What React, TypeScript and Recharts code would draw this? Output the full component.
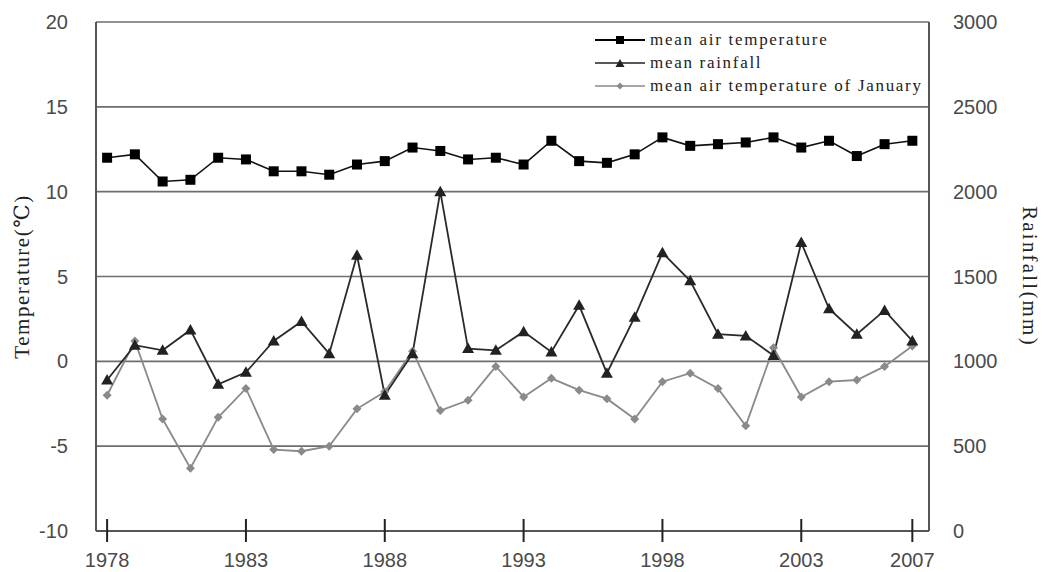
import React from 'react';
import { LineChart, Line, XAxis, YAxis, CartesianGrid, Legend } from 'recharts';

const years = [1978, 1979, 1980, 1981, 1982, 1983, 1984, 1985, 1986, 1987, 1988, 1989, 1990, 1991, 1992, 1993, 1994, 1995, 1996, 1997, 1998, 1999, 2000, 2001, 2002, 2003, 2004, 2005, 2006, 2007];
const meanAirTemp = [12.0, 12.2, 10.6, 10.7, 12.0, 11.9, 11.2, 11.2, 11.0, 11.6, 11.8, 12.6, 12.4, 11.9, 12.0, 11.6, 13.0, 11.8, 11.7, 12.2, 13.2, 12.7, 12.8, 12.9, 13.2, 12.6, 13.0, 12.1, 12.8, 13.0];
const meanRainfall = [890, 1095, 1065, 1185, 865, 935, 1120, 1235, 1045, 1625, 800, 1045, 2000, 1075, 1065, 1175, 1055, 1330, 930, 1260, 1640, 1475, 1160, 1150, 1035, 1700, 1310, 1160, 1300, 1120];
const meanJanTemp = [-2.0, 1.2, -3.4, -6.3, -3.3, -1.6, -5.2, -5.3, -5.0, -2.8, -1.8, 0.6, -2.9, -2.3, -0.3, -2.1, -1.0, -1.7, -2.2, -3.4, -1.2, -0.7, -1.6, -3.8, 0.8, -2.1, -1.2, -1.1, -0.3, 0.9];

const xTicks = [1978, 1983, 1988, 1993, 1998, 2003, 2007];
const tempTicks = [-10, -5, 0, 5, 10, 15, 20];
const rainTicks = [0, 500, 1000, 1500, 2000, 2500, 3000];
const seriesNames = ['mean air temperature', 'mean rainfall', 'mean air temperature of January'];

const data = years.map((y, i) => ({
  year: y,
  temp: meanAirTemp[i],
  rain: meanRainfall[i],
  jan: meanJanTemp[i],
}));

const SERIF = '"Liberation Serif", "DejaVu Serif", serif';
const SANS = '"Liberation Sans", Arial, sans-serif';

const SquareDot = (p: any) => (
  <rect key={p.key} x={p.cx - 5} y={p.cy - 5} width={10} height={10} fill="#000" />
);
const TriDot = (p: any) => (
  <polygon key={p.key} points={`${p.cx},${p.cy - 6} ${p.cx - 6},${p.cy + 4.5} ${p.cx + 6},${p.cy + 4.5}`} fill="#222" />
);
const DiamondDot = (p: any) => (
  <polygon key={p.key} points={`${p.cx},${p.cy - 4.5} ${p.cx + 4.5},${p.cy} ${p.cx},${p.cy + 4.5} ${p.cx - 4.5},${p.cy}`} fill="#8a8a8a" />
);

const XTick = (props: any) => {
  const { x, y, payload } = props;
  return (
    <g>
      <line x1={x} x2={x} y1={y - 12} y2={y + 11} stroke="#222" strokeWidth={2} />
      <text x={x} y={y + 29} textAnchor="middle" dominantBaseline="central" fill="#4a4a4a" fontSize={20} fontFamily={SANS}>
        {payload.value}
      </text>
    </g>
  );
};

const LeftLabel = (props: any) => {
  const vb = props.viewBox || {};
  const cx = vb.x + 22;
  const cy = vb.y + vb.height / 2;
  return (
    <text x={cx} y={cy} transform={`rotate(-90, ${cx}, ${cy})`} textAnchor="middle" dominantBaseline="central" fontFamily={SERIF} fontSize={21} letterSpacing={1.5} fill="#222">
      Temperature(℃)
    </text>
  );
};

const RightLabel = (props: any) => {
  const vb = props.viewBox || {};
  const cx = vb.x + 101;
  const cy = vb.y + vb.height / 2;
  return (
    <text x={cx} y={cy} transform={`rotate(90, ${cx}, ${cy})`} textAnchor="middle" dominantBaseline="central" fontFamily={SERIF} fontSize={21} letterSpacing={2.2} fill="#222">
      Rainfall(mm)
    </text>
  );
};

const legendStyles = [
  { stroke: '#000', width: 2, marker: 'square' },
  { stroke: '#222', width: 1.6, marker: 'tri' },
  { stroke: '#8a8a8a', width: 1.6, marker: 'diamond' },
];

const LegendContent = () => (
  <div style={{ display: 'flex', flexDirection: 'column' }}>
    {seriesNames.map((name, i) => {
      const s = legendStyles[i];
      return (
        <div key={name} style={{ display: 'flex', alignItems: 'center', height: 23 }}>
          <svg width={50} height={14} style={{ display: 'block' }}>
            <line x1={0} x2={50} y1={7} y2={7} stroke={s.stroke} strokeWidth={s.width} />
            {s.marker === 'square' && <rect x={21} y={3} width={8} height={8} fill="#000" />}
            {s.marker === 'tri' && <polygon points="25,3 20.5,11 29.5,11" fill="#222" />}
            {s.marker === 'diamond' && <polygon points="25,3.5 28.5,7 25,10.5 21.5,7" fill="#8a8a8a" />}
          </svg>
          <span style={{ marginLeft: 5, fontFamily: SERIF, fontSize: 17, letterSpacing: 1.7, color: '#222', whiteSpace: 'nowrap', lineHeight: '23px' }}>
            {name}
          </span>
        </div>
      );
    })}
  </div>
);

export default function App() {
  return (
    <div style={{ position: 'absolute', left: 0, top: 0, width: 1046, height: 572, background: '#fff' }}>
      <LineChart width={1046} height={572} data={data} margin={{ top: 22, right: 0, bottom: 0, left: 0 }}>
        <CartesianGrid yAxisId="l" vertical={false} stroke="#6e6e6e" strokeWidth={1.6} />
        <XAxis
          dataKey="year"
          type="number"
          domain={[1977.6, 2007.6]}
          ticks={xTicks}
          height={41}
          tickSize={0}
          tickMargin={0}
          tick={<XTick />}
          axisLine={{ stroke: '#555', strokeWidth: 2 }}
          interval={0}
        />
        <YAxis
          yAxisId="l"
          domain={[-10, 20]}
          ticks={tempTicks}
          width={96}
          tickSize={0}
          tickMargin={28}
          tickLine={false}
          axisLine={{ stroke: '#555', strokeWidth: 2 }}
          tick={{ fill: '#4a4a4a', fontSize: 20, fontFamily: SANS }}
          interval={0}
          label={<LeftLabel />}
        />
        <YAxis
          yAxisId="r"
          orientation="right"
          domain={[0, 3000]}
          ticks={rainTicks}
          width={117}
          tickSize={0}
          tickMargin={24}
          tickLine={false}
          axisLine={{ stroke: '#555', strokeWidth: 2 }}
          tick={{ fill: '#4a4a4a', fontSize: 20, fontFamily: SANS }}
          interval={0}
          label={<RightLabel />}
        />
        <Legend
          layout="horizontal"
          verticalAlign="middle"
          align="center"
          content={<LegendContent />}
          wrapperStyle={{ left: 595, top: 28, width: 'auto', height: 'auto' }}
        />
        <Line yAxisId="l" dataKey="jan" name={seriesNames[2]} stroke="#8a8a8a" strokeWidth={1.8} dot={DiamondDot} activeDot={false} isAnimationActive={false} />
        <Line yAxisId="r" dataKey="rain" name={seriesNames[1]} stroke="#2a2a2a" strokeWidth={1.8} dot={TriDot} activeDot={false} isAnimationActive={false} />
        <Line yAxisId="l" dataKey="temp" name={seriesNames[0]} stroke="#111" strokeWidth={1.6} dot={SquareDot} activeDot={false} isAnimationActive={false} />
      </LineChart>
    </div>
  );
}
